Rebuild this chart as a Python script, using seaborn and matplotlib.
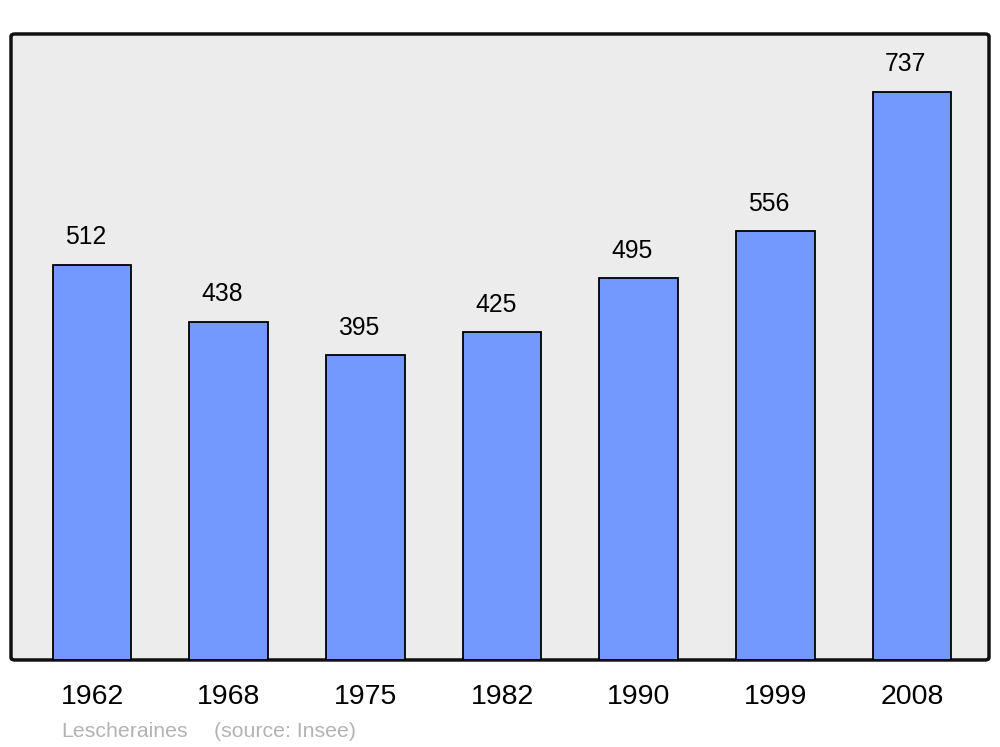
import matplotlib
matplotlib.use("Agg")
import matplotlib.pyplot as plt
import seaborn as sns
import pandas as pd
from matplotlib.patches import FancyBboxPatch

years = ["1962", "1968", "1975", "1982", "1990", "1999", "2008"]
population = [512, 438, 395, 425, 495, 556, 737]
commune = "Lescheraines"
source = "(source: Insee)"

df = pd.DataFrame({"year": years, "pop": population})

sns.set_style("white")
plt.rcParams["font.family"] = ["Liberation Sans", "DejaVu Sans"]

fig = plt.figure(figsize=(10, 7.47), dpi=100)
ax = fig.add_axes([0.011, 0.1165, 0.978, 0.838])
ax.set_facecolor("none")

# rounded grey frame
frame = FancyBboxPatch((0, 0), 1, 1, boxstyle="round,pad=0,rounding_size=0.004",
                       transform=ax.transAxes, facecolor="#ececec", edgecolor="#111111",
                       linewidth=2.5, zorder=0, clip_on=False)
ax.add_patch(frame)

sns.barplot(data=df, x="year", y="pop", color="#7399ff", edgecolor="black",
            linewidth=1.3, width=0.575, saturation=1, ax=ax, zorder=2)

for i, v in enumerate(population):
    ax.annotate(str(v), (i, v), xytext=(-4.5, 15), textcoords="offset points",
                ha="center", va="baseline", fontsize=17.8, color="black")

ax.set_xlim(-0.593, 6.563)
ax.set_ylim(0, 812)
for s in ax.spines.values():
    s.set_visible(False)
ax.set_yticks([])
ax.set_xlabel("")
ax.set_ylabel("")
ax.tick_params(axis="x", length=0, pad=17, labelsize=20.5, labelcolor="black")

fig.text(0.061, 0.0134, commune, fontsize=15.3, color="#b3b3b3", ha="left", va="baseline")
fig.text(0.214, 0.0134, source, fontsize=15.3, color="#b3b3b3", ha="left", va="baseline")

fig.savefig("out.png", dpi=100)
